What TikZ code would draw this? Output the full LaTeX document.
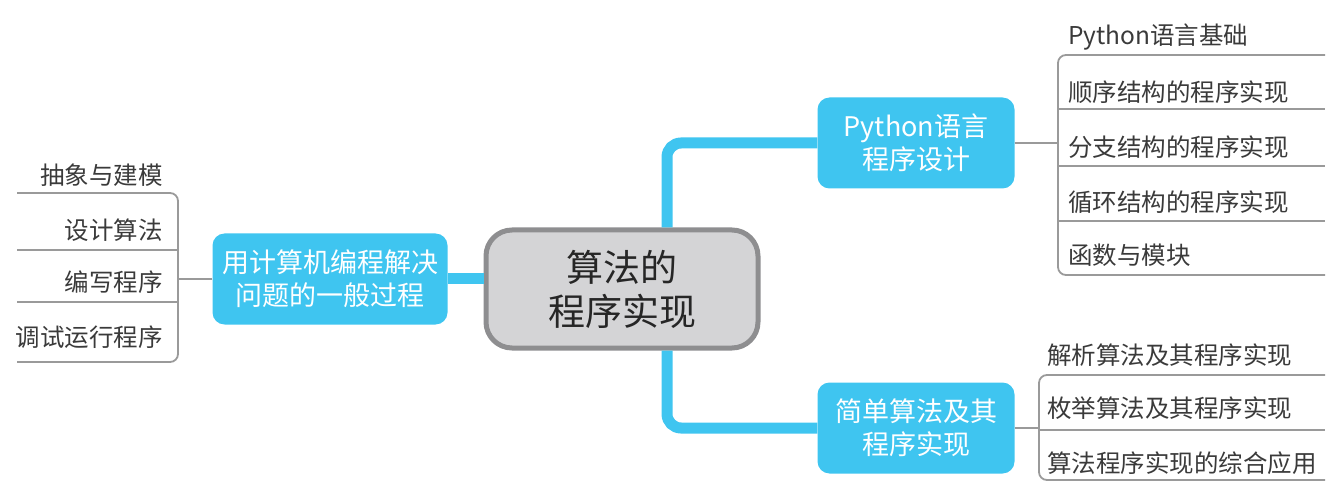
\documentclass[tikz,border=0pt]{standalone}
\usepackage{fontspec}
\setmainfont{Noto Sans CJK SC}
\usetikzlibrary{positioning}
\definecolor{skyblue}{HTML}{3FC5F0}
\definecolor{boxgray}{HTML}{D4D4D6}
\definecolor{rimgray}{HTML}{8E8E90}
\definecolor{linegray}{HTML}{9A9A9A}
\definecolor{txtgray}{HTML}{3A3A3A}
\tikzset{
  topic/.style={fill=skyblue, text=white, rounded corners=12pt, align=center,
    font=\fontsize{27}{33}\selectfont, minimum height=91pt, inner sep=0pt},
  leaf/.style={text=txtgray, inner sep=0pt, font=\fontsize{24.5}{28}\selectfont},
  trunk/.style={skyblue, line width=11pt, rounded corners=14pt},
  twig/.style={linegray, line width=1.8pt, rounded corners=8pt}
}
\begin{document}
\begin{tikzpicture}[x=1pt,y=-1pt]
\useasboundingbox (0,0) rectangle (1330,486);

\node[draw=rimgray, line width=5pt, fill=boxgray, rounded corners=26pt,
  minimum width=272pt, minimum height=118pt, align=center, text=black!85,
  font=\fontsize{37}{44}\selectfont] (root) at (622,289) {算法的\\程序实现};

\node[topic, minimum width=235pt] (proc) at (330,279) {用计算机编程解决\\问题的一般过程};
\node[topic, minimum width=197pt] (py) at (916,143) {Python语言\\程序设计};
\node[topic, minimum width=197pt] (alg) at (916,428) {简单算法及其\\程序实现};

% left leaves
\node[leaf, anchor=east] (l1) at (163,175) {抽象与建模};
\node[leaf, anchor=east] (l2) at (163,230) {设计算法};
\node[leaf, anchor=east] (l3) at (163,282) {编写程序};
\node[leaf, anchor=east] (l4) at (163,337) {调试运行程序};

% right leaves
\node[leaf, anchor=west] (p1) at (1068,37) {Python语言基础};
\node[leaf, anchor=west] (p2) at (1068,92) {顺序结构的程序实现};
\node[leaf, anchor=west] (p3) at (1068,147) {分支结构的程序实现};
\node[leaf, anchor=west] (p4) at (1068,202) {循环结构的程序实现};
\node[leaf, anchor=west] (p5) at (1068,255) {函数与模块};

\node[leaf, anchor=west] (s1) at (1047,355) {解析算法及其程序实现};
\node[leaf, anchor=west] (s2) at (1047,408) {枚举算法及其程序实现};
\node[leaf, anchor=west] (s3) at (1047,463) {算法程序实现的综合应用};

% main branches
\draw[trunk] (proc.east) -- (proc.east -| root.west);
\draw[trunk] ([xshift=45pt]root.north) |- (py.west);
\draw[trunk] ([xshift=45pt]root.south) |- (alg.west);

% brackets
\draw[twig] (17,193) -- (178,193) -- (178,362) -- (17,362);
\draw[twig] (17,250) -- (178,250);
\draw[twig] (17,302) -- (178,302);
\draw[twig] (proc.west) -- (178,279);

\draw[twig] (1325,55) -- (1058,55) -- (1058,275) -- (1325,275);
\foreach \y in {109,166,221}
  \draw[twig] (1058,\y) -- (1325,\y);
\draw[twig] (py.east) -- (1058,143);

\draw[twig] (1325,375) -- (1039,375) -- (1039,480) -- (1325,480);
\draw[twig] (1039,430) -- (1325,430);
\draw[twig] (alg.east) -- (1039,428);

\end{tikzpicture}
\end{document}
